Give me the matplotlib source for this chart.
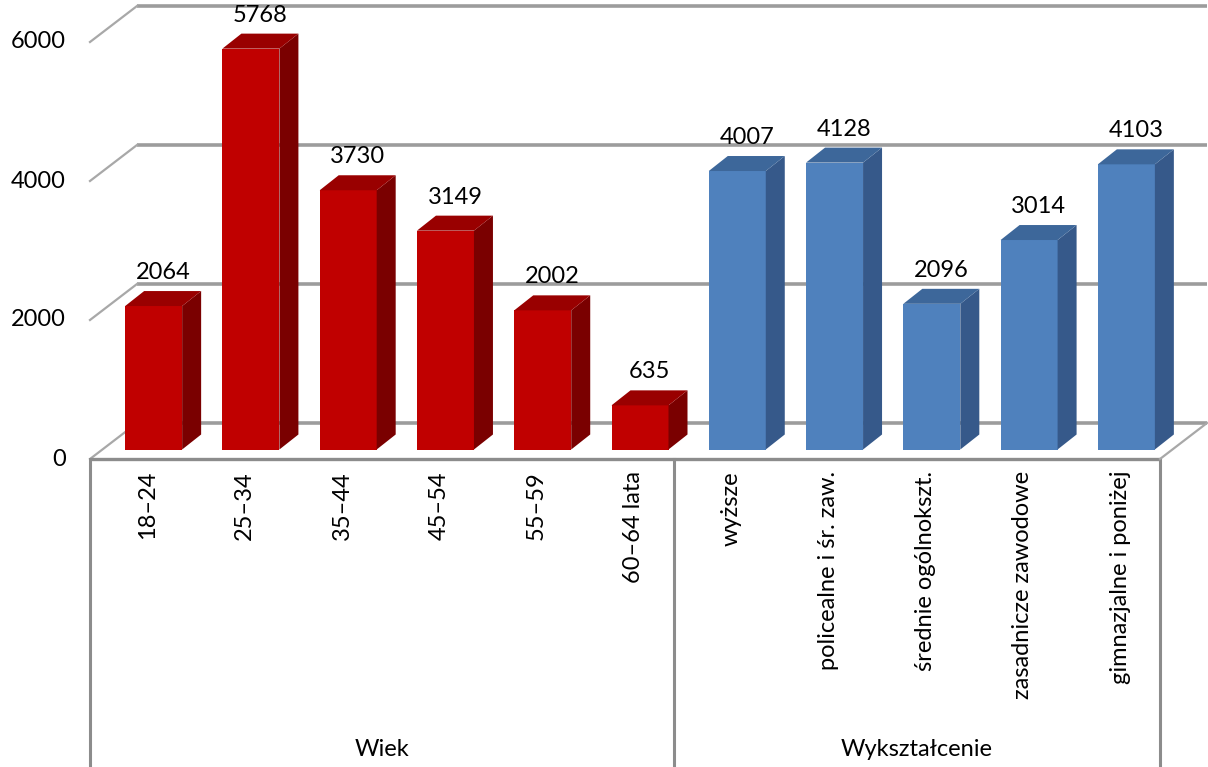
import matplotlib.pyplot as plt
from matplotlib.patches import Polygon

# data
categories = ["18–24", "25–34", "35–44", "45–54", "55–59", "60–64 lata",
              "wyższe", "policealne i śr. zaw.", "średnie ogólnokszt.",
              "zasadnicze zawodowe", "gimnazjalne i poniżej"]
values = [2064, 5768, 3730, 3149, 2002, 635, 4007, 4128, 2096, 3014, 4103]
groups = ["Wiek", "Wykształcenie"]
group_sizes = [6, 5]
yticks = [0, 2000, 4000, 6000]

plt.rcParams['font.family'] = ['Lato', 'DejaVu Sans']
FS = 17

W, H = 1208, 767
x0_px, x1_px, base_px = 90, 1160, 459
px_per_val = 0.0695
px_per_cat = (x1_px - x0_px) / len(categories)

def cx(px):
    return px / px_per_cat

def cy(px):
    return px / px_per_val

# depth of the 3d box and of the bars
DX, DY = cx(47), cy(36)
bx, by = cx(15), cy(9.5)
bw = cx(57)
sx, sy = cx(19), cy(15)

fig = plt.figure(figsize=(W / 100, H / 100), dpi=100)
ax = fig.add_axes([0, 0, 1, 1])
ax.set_xlim(-0.5 - cx(x0_px), -0.5 + cx(W - x0_px))
ax.set_ylim(-cy(H - base_px), cy(base_px))
ax.axis("off")

n = len(categories)
left, right = -0.5, n - 0.5

# back wall gridlines + left diagonals
for v in yticks:
    ax.plot([left + DX, right + DX], [v + DY, v + DY], color="#9c9c9c",
            lw=2.6, zorder=1, solid_capstyle="butt")
    ax.plot([left, left + DX], [v, v + DY], color="#a8a8a8", lw=1.6, zorder=1)
    ax.text(cx(66 - x0_px) + left, v, f"{v}", ha="right", va="center", fontsize=FS)

# front axis line and right diagonal
ax.plot([left, right], [0, 0], color="#8c8c8c", lw=2.4, zorder=3, solid_capstyle="butt")
ax.plot([right, right + DX], [0, DY], color="#a8a8a8", lw=1.6, zorder=3)

# bars
colors = []
for g, size in enumerate(group_sizes):
    if g == 0:
        colors += [("#C00000", "#990000", "#7A0000")] * size
    else:
        colors += [("#4F81BD", "#3D679A", "#36598A")] * size

xs = list(range(n))
for i, (x, v) in enumerate(zip(xs, values)):
    front, top, side = colors[i]
    xl = x + bx - bw / 2
    xr = x + bx + bw / 2
    ax.bar(x + bx, v, bw, bottom=by, color=front, zorder=4)
    ax.add_patch(Polygon([(xr, by), (xr + sx, by + sy), (xr + sx, by + v + sy), (xr, by + v)],
                         closed=True, color=side, lw=0, zorder=4))
    ax.add_patch(Polygon([(xl, by + v), (xr, by + v), (xr + sx, by + v + sy), (xl + sx, by + v + sy)],
                         closed=True, color=top, lw=0, zorder=4))
    ax.text(x + bx + sx / 2, v + by + sy + cy(8), f"{v}", ha="center", va="bottom",
            fontsize=FS, zorder=5)

# category labels
for x, lab in zip(xs, categories):
    ax.text(x + 0.09, -cy(12), lab, rotation=90, ha="center", va="top", fontsize=FS)

# group separators and labels
start = left
bottom = -cy(H - base_px)
ax.plot([start, start], [0, bottom], color="#8c8c8c", lw=2.2, clip_on=False)
for name, size in zip(groups, group_sizes):
    end = start + size
    ax.plot([end, end], [0, bottom], color="#8c8c8c", lw=2.2, clip_on=False)
    ax.text((start + end) / 2, -cy(750 - base_px), name, ha="center", va="center", fontsize=FS)
    start = end

fig.savefig("out.png", dpi=100)
